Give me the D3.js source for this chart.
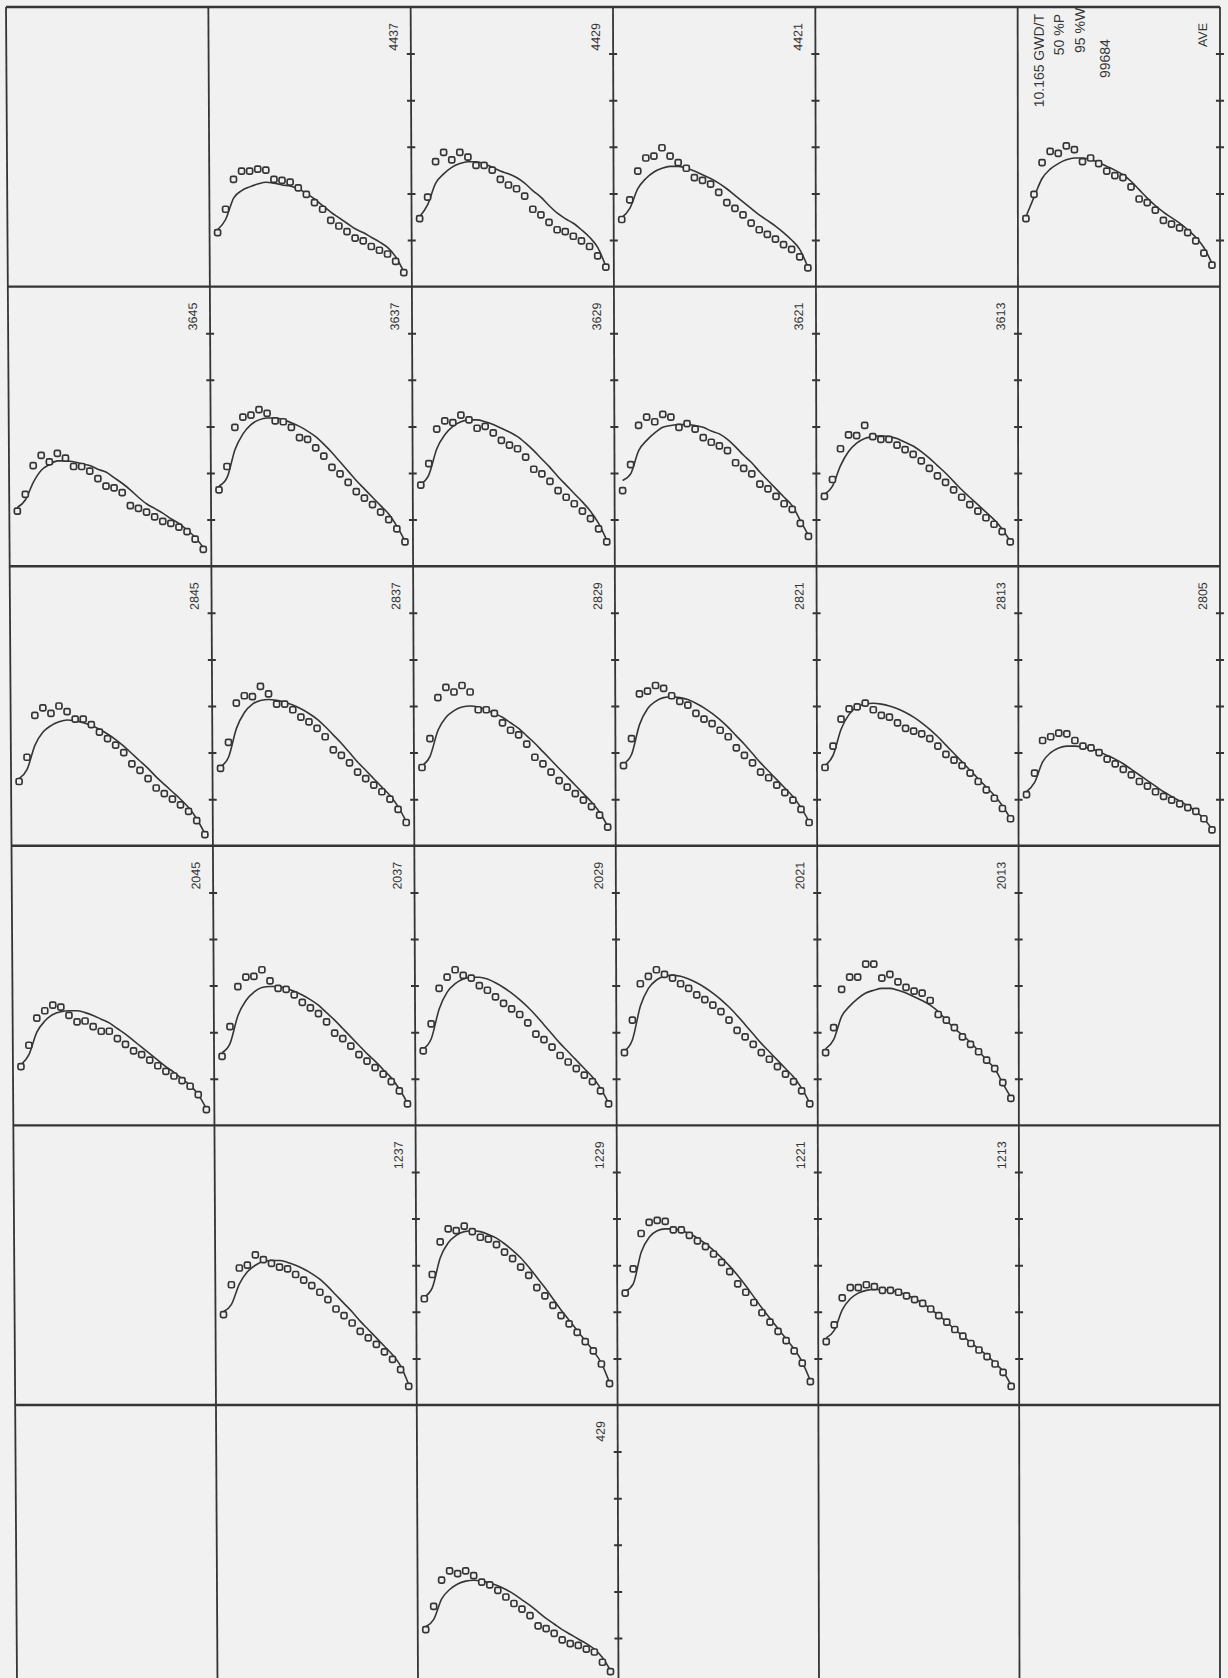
<!DOCTYPE html>
<html><head><meta charset="utf-8">
<script src="https://cdn.jsdelivr.net/npm/d3@7"></script>
<style>html,body{margin:0;padding:0;background:#f1f1f1;}svg{display:block}</style>
</head><body>
<svg id="chart" width="1228" height="1678"></svg>
<script>
// ---------------- DATA ----------------
const axialNodes = [1,2,3,4,5,6,7,8,9,10,11,12,13,14,15,16,17,18,19,20,21,22,23,24];
const yTickValues = [0.5,1.0,1.5,2.0,2.5];
const gridLabels = [
  ["", "4437", "4429", "4421", "", "AVE"],
  ["3645", "3637", "3629", "3621", "3613", ""],
  ["2845", "2837", "2829", "2821", "2813", "2805"],
  ["2045", "2037", "2029", "2021", "2013", ""],
  ["", "1237", "1229", "1221", "1213", ""],
  ["", "", "429", "", "", ""]
];
const legendLines = ["10.165 GWD/T", "50 %P", "95 %W", "99684"];

// measured (squares) and calculated (line) relative power per axial node
const meas4437 = [0.58,0.83,1.15,1.24,1.24,1.26,1.25,1.15,1.14,1.12,1.06,0.99,0.90,0.83,0.71,0.65,0.59,0.52,0.49,0.43,0.39,0.35,0.27,0.15];
const calc4437 = [0.61,0.72,0.95,1.03,1.07,1.10,1.12,1.11,1.09,1.08,1.05,1.00,0.94,0.87,0.80,0.74,0.68,0.62,0.58,0.53,0.48,0.42,0.32,0.16];
const meas4429 = [0.73,0.96,1.34,1.44,1.36,1.44,1.39,1.30,1.30,1.25,1.15,1.09,1.05,0.97,0.83,0.77,0.69,0.61,0.59,0.54,0.49,0.43,0.33,0.21];
const calc4429 = [0.75,0.88,1.11,1.21,1.28,1.32,1.34,1.34,1.32,1.28,1.24,1.21,1.17,1.11,1.03,0.96,0.87,0.79,0.73,0.68,0.61,0.53,0.42,0.22];
const meas4421 = [0.72,0.93,1.24,1.38,1.40,1.49,1.40,1.33,1.27,1.17,1.14,1.10,1.01,0.90,0.84,0.77,0.68,0.61,0.56,0.51,0.45,0.40,0.32,0.20];
const calc4421 = [0.74,0.84,1.05,1.16,1.23,1.27,1.29,1.29,1.27,1.24,1.20,1.16,1.11,1.05,0.98,0.91,0.84,0.77,0.71,0.65,0.58,0.50,0.40,0.21];
const measAVE  = [0.73,0.99,1.33,1.45,1.43,1.51,1.47,1.34,1.38,1.32,1.24,1.19,1.17,1.07,0.94,0.90,0.82,0.71,0.67,0.63,0.58,0.49,0.36,0.23];
const calcAVE  = [0.75,0.96,1.16,1.26,1.32,1.36,1.38,1.38,1.36,1.33,1.29,1.25,1.20,1.13,1.04,0.95,0.87,0.80,0.74,0.68,0.61,0.53,0.42,0.25];
const meas3645 = [0.59,0.77,1.08,1.19,1.12,1.21,1.16,1.07,1.07,1.02,0.94,0.86,0.84,0.79,0.65,0.62,0.58,0.53,0.48,0.46,0.42,0.37,0.29,0.18];
const calc3645 = [0.63,0.71,0.90,1.03,1.09,1.13,1.13,1.12,1.10,1.08,1.04,1.01,0.95,0.89,0.82,0.74,0.67,0.62,0.57,0.51,0.46,0.39,0.31,0.20];
const meas3637 = [0.82,1.07,1.49,1.60,1.62,1.68,1.64,1.56,1.55,1.49,1.38,1.36,1.27,1.18,1.06,0.99,0.90,0.80,0.73,0.66,0.58,0.50,0.40,0.26];
const calc3637 = [0.86,0.95,1.25,1.42,1.52,1.57,1.59,1.59,1.57,1.54,1.50,1.45,1.39,1.31,1.22,1.12,1.02,0.92,0.83,0.74,0.65,0.56,0.43,0.27];
const meas3629 = [0.87,1.10,1.47,1.56,1.54,1.62,1.57,1.48,1.50,1.43,1.35,1.30,1.26,1.17,1.04,0.99,0.91,0.81,0.74,0.67,0.59,0.51,0.40,0.26];
const calc3629 = [0.88,0.98,1.26,1.41,1.50,1.55,1.57,1.57,1.55,1.52,1.48,1.44,1.39,1.32,1.24,1.15,1.06,0.96,0.87,0.78,0.69,0.59,0.46,0.28];
const meas3621 = [0.81,1.09,1.51,1.60,1.55,1.63,1.60,1.49,1.53,1.47,1.38,1.33,1.29,1.24,1.11,1.05,0.99,0.88,0.83,0.75,0.67,0.61,0.46,0.32];
const calc3621 = [0.92,0.99,1.24,1.35,1.43,1.49,1.51,1.52,1.52,1.51,1.49,1.45,1.42,1.36,1.28,1.19,1.11,1.01,0.92,0.83,0.74,0.65,0.49,0.33];
const meas3613 = [0.75,0.93,1.26,1.41,1.40,1.51,1.39,1.36,1.36,1.30,1.25,1.20,1.13,1.05,0.97,0.90,0.82,0.74,0.66,0.59,0.52,0.45,0.37,0.26];
const calc3613 = [0.77,0.86,1.08,1.23,1.32,1.37,1.39,1.40,1.39,1.37,1.33,1.29,1.23,1.16,1.08,1.00,0.91,0.82,0.74,0.66,0.58,0.50,0.40,0.27];
const meas2845 = [0.69,0.95,1.40,1.48,1.42,1.50,1.44,1.36,1.36,1.30,1.22,1.15,1.08,1.00,0.88,0.81,0.72,0.62,0.56,0.50,0.44,0.37,0.27,0.12];
const calc2845 = [0.72,0.82,1.08,1.22,1.29,1.33,1.35,1.34,1.32,1.29,1.25,1.20,1.14,1.07,0.99,0.91,0.83,0.74,0.66,0.58,0.50,0.41,0.29,0.13];
const meas2837 = [0.83,1.11,1.53,1.61,1.60,1.71,1.63,1.52,1.52,1.46,1.38,1.33,1.26,1.17,1.03,0.97,0.89,0.79,0.72,0.65,0.58,0.50,0.39,0.25];
const calc2837 = [0.85,0.95,1.26,1.43,1.52,1.56,1.57,1.56,1.54,1.51,1.47,1.42,1.36,1.28,1.19,1.10,1.00,0.90,0.81,0.72,0.63,0.54,0.42,0.26];
const meas2829 = [0.84,1.15,1.59,1.70,1.65,1.72,1.65,1.46,1.46,1.42,1.32,1.24,1.19,1.09,0.95,0.88,0.79,0.70,0.63,0.56,0.49,0.42,0.33,0.20];
const calc2829 = [0.86,0.96,1.24,1.38,1.45,1.49,1.50,1.49,1.46,1.42,1.38,1.32,1.26,1.18,1.10,1.01,0.92,0.83,0.74,0.65,0.56,0.47,0.36,0.21];
const meas2821 = [0.86,1.15,1.63,1.66,1.72,1.69,1.61,1.55,1.51,1.42,1.36,1.31,1.24,1.17,1.05,0.97,0.89,0.79,0.73,0.65,0.57,0.49,0.39,0.25];
const calc2821 = [0.88,0.98,1.30,1.47,1.55,1.59,1.60,1.59,1.57,1.53,1.48,1.42,1.35,1.27,1.18,1.09,0.99,0.89,0.80,0.71,0.62,0.53,0.41,0.26];
const meas2813 = [0.84,1.07,1.36,1.47,1.49,1.53,1.46,1.40,1.38,1.32,1.26,1.23,1.20,1.15,1.07,0.98,0.92,0.86,0.78,0.69,0.60,0.51,0.40,0.29];
const calc2813 = [0.86,0.97,1.25,1.41,1.49,1.52,1.53,1.52,1.50,1.47,1.43,1.38,1.32,1.25,1.17,1.08,0.99,0.90,0.81,0.72,0.63,0.54,0.43,0.29];
const meas2805 = [0.55,0.78,1.13,1.17,1.21,1.20,1.13,1.07,1.05,1.00,0.93,0.88,0.82,0.76,0.69,0.64,0.58,0.53,0.49,0.45,0.41,0.37,0.29,0.17];
const calc2805 = [0.58,0.68,0.90,1.00,1.05,1.07,1.07,1.06,1.04,1.01,0.97,0.93,0.88,0.82,0.76,0.70,0.64,0.58,0.53,0.48,0.43,0.37,0.29,0.18];
const meas2045 = [0.63,0.86,1.15,1.23,1.29,1.27,1.18,1.11,1.12,1.06,1.01,1.01,0.93,0.87,0.80,0.76,0.70,0.64,0.58,0.53,0.48,0.42,0.33,0.17];
const calc2045 = [0.65,0.76,1.00,1.12,1.19,1.22,1.23,1.23,1.21,1.18,1.14,1.10,1.04,0.98,0.91,0.84,0.77,0.70,0.63,0.57,0.50,0.43,0.33,0.18];
const meas2037 = [0.74,1.06,1.49,1.59,1.60,1.67,1.55,1.47,1.46,1.40,1.32,1.26,1.20,1.11,0.99,0.93,0.85,0.76,0.69,0.62,0.55,0.47,0.37,0.23];
const calc2037 = [0.78,0.88,1.18,1.34,1.43,1.48,1.49,1.49,1.47,1.44,1.40,1.35,1.29,1.21,1.13,1.04,0.95,0.86,0.77,0.69,0.60,0.51,0.39,0.24];
const meas2029 = [0.80,1.09,1.47,1.59,1.67,1.61,1.58,1.50,1.45,1.38,1.31,1.25,1.19,1.10,0.98,0.92,0.84,0.75,0.68,0.61,0.54,0.47,0.37,0.23];
const calc2029 = [0.82,0.93,1.25,1.43,1.52,1.57,1.59,1.59,1.57,1.53,1.48,1.42,1.35,1.27,1.18,1.08,0.98,0.88,0.79,0.70,0.61,0.52,0.40,0.24];
const meas2021 = [0.78,1.13,1.52,1.60,1.67,1.62,1.58,1.52,1.47,1.40,1.35,1.29,1.22,1.13,1.02,0.95,0.87,0.78,0.71,0.63,0.55,0.47,0.37,0.23];
const calc2021 = [0.80,0.92,1.28,1.47,1.56,1.60,1.61,1.60,1.57,1.53,1.48,1.42,1.35,1.27,1.18,1.08,0.98,0.88,0.79,0.70,0.61,0.52,0.40,0.24];
const meas2013 = [0.78,1.05,1.46,1.59,1.59,1.73,1.73,1.58,1.62,1.54,1.48,1.44,1.42,1.34,1.19,1.13,1.05,0.95,0.87,0.79,0.70,0.61,0.46,0.29];
const calc2013 = [0.82,0.92,1.17,1.28,1.36,1.42,1.45,1.47,1.47,1.45,1.42,1.38,1.34,1.29,1.22,1.13,1.04,0.97,0.89,0.80,0.70,0.61,0.45,0.30];
const meas1237 = [0.97,1.29,1.47,1.50,1.61,1.56,1.52,1.48,1.46,1.40,1.34,1.28,1.21,1.13,1.03,0.96,0.88,0.79,0.72,0.65,0.57,0.49,0.38,0.20];
const calc1237 = [1.00,1.08,1.30,1.43,1.50,1.54,1.55,1.55,1.53,1.50,1.46,1.41,1.35,1.27,1.18,1.09,1.00,0.90,0.81,0.72,0.63,0.54,0.42,0.22];
const meas1229 = [1.14,1.40,1.75,1.89,1.87,1.92,1.86,1.80,1.78,1.72,1.64,1.57,1.48,1.39,1.26,1.17,1.07,0.96,0.87,0.78,0.68,0.58,0.44,0.23];
const calc1229 = [1.16,1.26,1.58,1.74,1.82,1.86,1.87,1.86,1.83,1.79,1.73,1.66,1.58,1.48,1.37,1.26,1.14,1.02,0.91,0.80,0.69,0.58,0.45,0.24];
const meas1221 = [1.20,1.46,1.84,1.96,1.98,1.97,1.88,1.88,1.82,1.76,1.70,1.62,1.53,1.43,1.30,1.21,1.10,0.99,0.89,0.79,0.69,0.58,0.45,0.25];
const calc1221 = [1.22,1.30,1.64,1.80,1.87,1.89,1.89,1.87,1.84,1.79,1.73,1.66,1.58,1.49,1.39,1.28,1.16,1.04,0.93,0.82,0.71,0.60,0.46,0.26];
const meas1213 = [0.68,0.86,1.15,1.26,1.26,1.29,1.27,1.23,1.23,1.21,1.17,1.13,1.09,1.03,0.96,0.89,0.81,0.74,0.66,0.59,0.52,0.44,0.35,0.20];
const calc1213 = [0.72,0.80,1.02,1.14,1.20,1.23,1.24,1.24,1.23,1.21,1.18,1.14,1.09,1.03,0.96,0.89,0.81,0.74,0.67,0.60,0.53,0.45,0.36,0.21];
const meas429  = [0.59,0.84,1.12,1.22,1.19,1.22,1.17,1.10,1.07,1.01,0.94,0.87,0.81,0.74,0.63,0.60,0.55,0.48,0.44,0.42,0.38,0.35,0.24,0.14];
const calc429  = [0.62,0.70,0.92,1.02,1.08,1.11,1.12,1.11,1.09,1.06,1.02,0.97,0.91,0.85,0.78,0.71,0.65,0.59,0.54,0.49,0.44,0.38,0.29,0.15];

const series = {
  "4437": [meas4437, calc4437], "4429": [meas4429, calc4429], "4421": [meas4421, calc4421], "AVE": [measAVE, calcAVE],
  "3645": [meas3645, calc3645], "3637": [meas3637, calc3637], "3629": [meas3629, calc3629], "3621": [meas3621, calc3621], "3613": [meas3613, calc3613],
  "2845": [meas2845, calc2845], "2837": [meas2837, calc2837], "2829": [meas2829, calc2829], "2821": [meas2821, calc2821], "2813": [meas2813, calc2813], "2805": [meas2805, calc2805],
  "2045": [meas2045, calc2045], "2037": [meas2037, calc2037], "2029": [meas2029, calc2029], "2021": [meas2021, calc2021], "2013": [meas2013, calc2013],
  "1237": [meas1237, calc1237], "1229": [meas1229, calc1229], "1221": [meas1221, calc1221], "1213": [meas1213, calc1213],
  "429": [meas429, calc429]
};

// ---------------- LAYOUT ----------------
const W = 1228, H = 1678;
const gridLeft = 6, gridTop = 7, cellW = 202.33, cellH = 279.6, nCols = 6, nRows = 6;
const gridW = cellW * nCols;
const INK = "#353535";
const BG = "#f1f1f1";
const FONT = "'Liberation Sans', Arial, sans-serif";
// scan distortion: the left side drifts right toward the bottom of the page
const DRIFT = 10, DRIFT_SPAN = 1523;
function dx(x, y) { return DRIFT * ((y - gridTop) / DRIFT_SPAN) * (1 - (x - gridLeft) / gridW); }
function warp(x, y) { return [x + dx(x, y), y]; }
function panelMatrix(xc, yc) {
  const A = -DRIFT * ((yc - gridTop) / DRIFT_SPAN) / gridW;
  const B = DRIFT * (1 - (xc - gridLeft) / gridW) / DRIFT_SPAN;
  const E = dx(xc, yc) - A * xc - B * yc;
  return `matrix(${1 + A},0,${B},1,${E},0)`;
}

const svg = d3.select("#chart");
svg.append("rect").attr("width", W).attr("height", H).attr("fill", BG);

// grid lines
const gridG = svg.append("g").attr("stroke", INK).attr("fill", "none");
for (let i = 0; i <= nCols; i++) {
  const x = gridLeft + i * cellW;
  const p0 = warp(x, gridTop), p1 = warp(x, gridTop + nRows * cellH);
  gridG.append("line").attr("x1", p0[0]).attr("y1", p0[1]).attr("x2", p1[0]).attr("y2", p1[1]).attr("stroke-width", 1.8);
}
for (let j = 0; j <= nRows; j++) {
  const y = gridTop + j * cellH;
  const p0 = warp(gridLeft, y), p1 = warp(gridLeft + gridW, y);
  gridG.append("line").attr("x1", p0[0]).attr("y1", p0[1]).attr("x2", p1[0]).attr("y2", p1[1]).attr("stroke-width", 2.4);
}

// panels
gridLabels.forEach((row, r) => row.forEach((label, c) => {
  if (!label) return;
  const x0 = gridLeft + c * cellW, y0 = gridTop + r * cellH;
  const g = svg.append("g").attr("transform", panelMatrix(x0 + cellW / 2, y0 + cellH / 2));
  const xs = d3.scaleLinear().domain([0, 25]).range([x0, x0 + cellW]);
  const ys = d3.scaleLinear().domain([0, 3]).range([y0 + cellH, y0]);
  const [meas, calc] = series[label];

  const ax = g.append("g").attr("transform", `translate(${x0 + cellW},0)`)
    .call(d3.axisRight(ys).tickValues(yTickValues).tickSize(4).tickFormat(""));
  ax.select(".domain").remove();
  ax.selectAll(".tick line").attr("x1", -4).attr("x2", 4).attr("stroke", INK).attr("stroke-width", 2);

  g.append("path").datum(calc)
    .attr("d", d3.line().x((d, i) => xs(axialNodes[i])).y(d => ys(d)).curve(d3.curveMonotoneX))
    .attr("fill", "none").attr("stroke", INK).attr("stroke-width", 1.6);

  g.selectAll("rect.pt").data(meas).join("rect").attr("class", "pt")
    .attr("x", (d, i) => xs(axialNodes[i]) - 3).attr("y", d => ys(d) - 3)
    .attr("width", 6).attr("height", 6).attr("rx", 1.6)
    .attr("fill", BG).attr("stroke", INK).attr("stroke-width", 1.7);

  g.append("text")
    .attr("transform", `translate(${x0 + cellW - 13},${y0 + 16}) rotate(-90)`)
    .attr("text-anchor", "end").attr("font-family", FONT).attr("font-size", 12.5)
    .attr("fill", INK).text(label);

  if (label === "AVE") {
    const specs = [
      { dxp: 26, y: y0 + 7, anchor: "end" },
      { dxp: 46, y: y0 + 7, anchor: "end" },
      { dxp: 67, y: y0 + 46, anchor: "start" },
      { dxp: 92, y: y0 + 71, anchor: "start" }
    ];
    legendLines.forEach((t, k) => {
      g.append("text")
        .attr("transform", `translate(${x0 + specs[k].dxp},${specs[k].y}) rotate(-90)`)
        .attr("text-anchor", specs[k].anchor).attr("font-family", FONT).attr("font-size", 14)
        .attr("fill", INK).text(t);
    });
  }
}));
</script>
</body></html>
